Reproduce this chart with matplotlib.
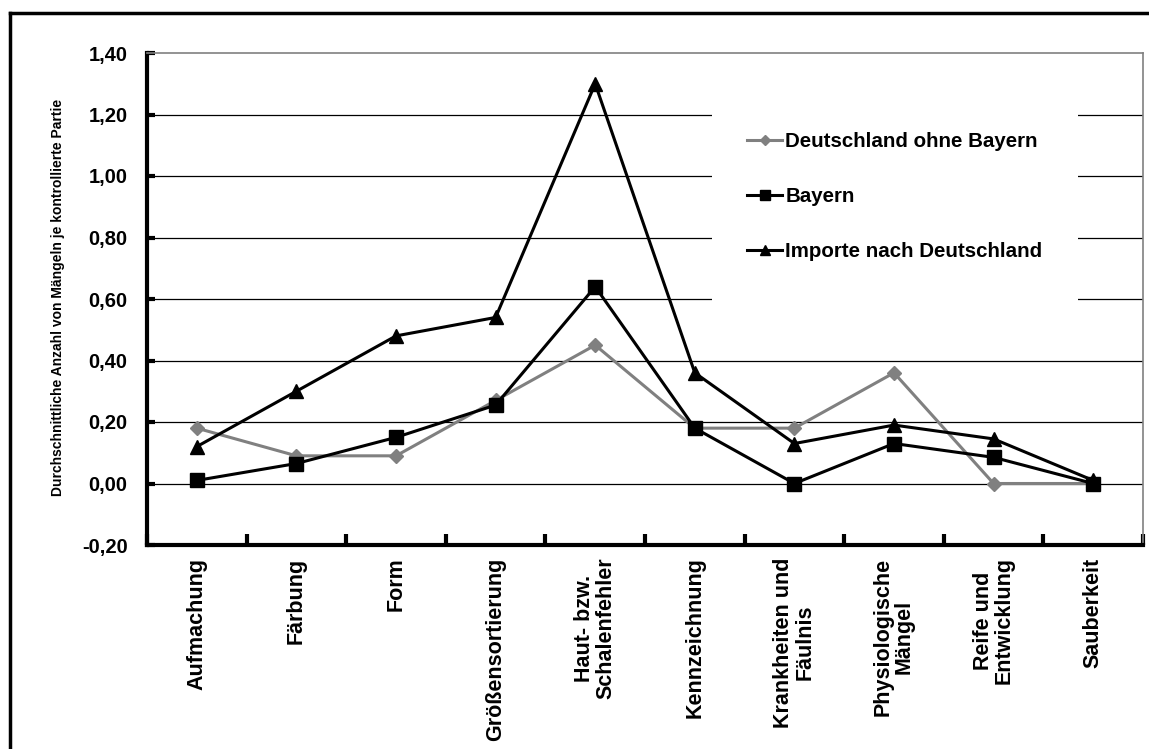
import matplotlib
matplotlib.use("Agg")
import matplotlib.pyplot as plt
import matplotlib.transforms as mtransforms
from matplotlib.patches import Rectangle
from matplotlib.lines import Line2D
import numpy as np

plt.rcParams['font.family'] = ['Liberation Sans', 'DejaVu Sans']
plt.rcParams['font.weight'] = 'bold'

categories = [
    "Aufmachung", "Färbung", "Form", "Größensortierung",
    "Haut- bzw.\nSchalenfehler", "Kennzeichnung", "Krankheiten und\nFäulnis",
    "Physiologische\nMängel", "Reife und\nEntwicklung", "Sauberkeit",
]
deutschland_ohne_bayern = [0.18, 0.09, 0.09, 0.27, 0.45, 0.18, 0.18, 0.36, 0.00, 0.00]
bayern = [0.01, 0.065, 0.15, 0.255, 0.64, 0.18, 0.00, 0.13, 0.085, 0.00]
importe = [0.12, 0.30, 0.48, 0.54, 1.30, 0.36, 0.13, 0.19, 0.145, 0.01]
series_names = ["Deutschland ohne Bayern", "Bayern", "Importe nach Deutschland"]
y_ticks = [-0.20, 0.00, 0.20, 0.40, 0.60, 0.80, 1.00, 1.20, 1.40]
y_tick_labels = ["-0,20", "0,00", "0,20", "0,40", "0,60", "0,80", "1,00", "1,20", "1,40"]
y_label = "Durchschnittliche Anzahl von Mängeln je kontrollierte Partie"

W, H = 1149, 749
fig = plt.figure(figsize=(W / 100, H / 100), dpi=100)
fig.patch.set_facecolor("white")

# outer frame (left and top edges)
fig.add_artist(Line2D([10 / W, 10 / W], [0, 1 - 13 / H], transform=fig.transFigure,
                      color="black", lw=2.5, solid_capstyle="projecting"))
fig.add_artist(Line2D([10 / W, 1.0], [1 - 13 / H, 1 - 13 / H], transform=fig.transFigure,
                      color="black", lw=2.5, solid_capstyle="projecting"))

left, right, top, bottom = 147, 1143, 53, 545
ax = fig.add_axes([left / W, 1 - bottom / H, (right - left) / W, (bottom - top) / H])

x = np.arange(len(categories))
ax.set_xlim(-0.5, len(categories) - 0.5)
ax.set_ylim(-0.20, 1.40)

# gridlines
for v in y_ticks[1:-1]:
    ax.axhline(v, color="black", lw=0.9, zorder=1)

# white background of the legend area
trans = mtransforms.blended_transform_factory(ax.transAxes, ax.transData)
ax.add_patch(Rectangle((0.567, 0.575), 0.368, 0.655, transform=trans,
                       facecolor="white", edgecolor="none", zorder=1.5))

ax.plot(x, deutschland_ohne_bayern, color="#808080", lw=2.2, marker="D", ms=7,
        mfc="#808080", mec="#808080", zorder=3, label=series_names[0])
ax.plot(x, bayern, color="black", lw=2.2, marker="s", ms=9.5,
        mfc="black", mec="black", zorder=4, label=series_names[1])
ax.plot(x, importe, color="black", lw=2.2, marker="^", ms=10,
        mfc="black", mec="black", zorder=5, label=series_names[2])

# spines
for s in ["top", "right"]:
    ax.spines[s].set_color("#808080")
    ax.spines[s].set_linewidth(1.2)
for s in ["left", "bottom"]:
    ax.spines[s].set_color("black")
    ax.spines[s].set_linewidth(3)

ax.set_yticks(y_ticks)
ax.set_yticklabels(y_tick_labels, fontsize=14.5, fontweight="bold")
ax.tick_params(axis="y", direction="in", length=6, width=3, pad=14)

ax.set_xticks(np.arange(-0.5, len(categories), 1))
ax.set_xticklabels([])
ax.tick_params(axis="x", which="major", direction="in", length=8, width=3)
ax.set_xticks(x, minor=True)
ax.set_xticklabels(categories, minor=True, rotation=90, fontsize=15.5,
                   fontweight="bold", va="top", ha="center", multialignment="center",
                   linespacing=1.0)
ax.tick_params(axis="x", which="minor", length=0, pad=9)

fig.text(58 / W, 1 - 297 / H, y_label, rotation=90, ha="center", va="center",
         fontsize=10, fontweight="bold")

leg = ax.legend(loc="upper left", bbox_to_anchor=(737 / W, 1 - 122 / H),
                bbox_transform=fig.transFigure, frameon=False,
                prop={"size": 14.8, "weight": "bold"}, handlelength=1.7,
                handletextpad=0.15, labelspacing=1.75, borderpad=0, markerscale=0.75)

fig.savefig("out.png", dpi=100)
